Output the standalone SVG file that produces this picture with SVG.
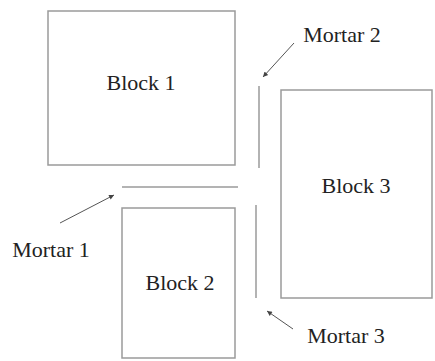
<svg xmlns="http://www.w3.org/2000/svg" width="435" height="361" viewBox="0 0 435 361">
<style>
.blk{fill:#fff;stroke:#9a9a9a;stroke-width:1.5}
.mor{stroke:#9a9a9a;stroke-width:1.5;fill:none}
.arr{stroke:#555;stroke-width:1;fill:none;marker-end:url(#ah)}
text{font-family:"Liberation Serif","Times New Roman",serif;font-size:22px;fill:#222}
</style>
<defs>
<marker id="ah" viewBox="0 0 10 10" refX="10" refY="5" markerWidth="7" markerHeight="5" orient="auto" markerUnits="userSpaceOnUse">
<path d="M0,0 L10,5 L0,10 z" fill="#444"/>
</marker>
</defs>
<rect width="435" height="361" fill="#fff"/>
<g id="block1"><rect class="blk" x="48" y="11" width="187" height="154"/><text x="141" y="90" text-anchor="middle">Block 1</text></g>
<g id="block2"><rect class="blk" x="122" y="208" width="113" height="150"/><text x="180" y="290" text-anchor="middle">Block 2</text></g>
<g id="block3"><rect class="blk" x="281" y="90" width="151" height="208"/><text x="356" y="193" text-anchor="middle">Block 3</text></g>
<g id="mortar1"><line class="mor" x1="122" y1="187" x2="238" y2="187"/><text x="51" y="257" text-anchor="middle">Mortar 1</text></g>
<g id="mortar2"><line class="mor" x1="259" y1="86" x2="259" y2="168"/><text x="342" y="42" text-anchor="middle">Mortar 2</text></g>
<g id="mortar3"><line class="mor" x1="256" y1="205" x2="256" y2="298"/><text x="346" y="343" text-anchor="middle">Mortar 3</text></g>
<g id="connectors">
<line class="arr" x1="60" y1="223" x2="114" y2="195"/>
<line class="arr" x1="294" y1="43" x2="263" y2="77"/>
<line class="arr" x1="293" y1="329" x2="267" y2="311"/>
</g>
</svg>
